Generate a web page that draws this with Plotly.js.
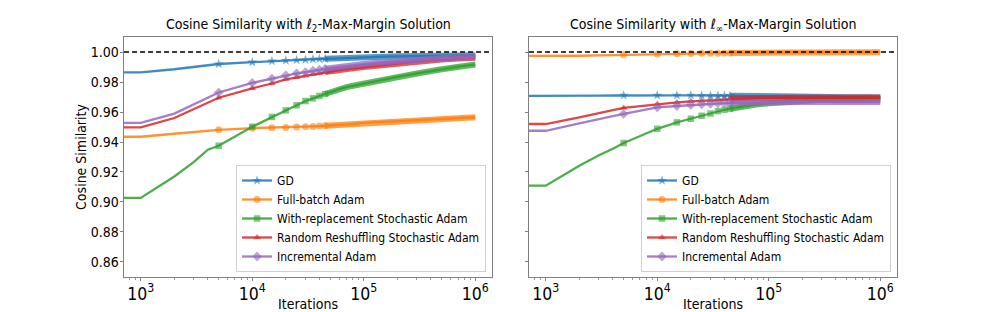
<!DOCTYPE html>
<html>
<head>
<meta charset="utf-8">
<script src="https://cdn.plot.ly/plotly-3.0.1.min.js"></script>
<style>html,body{margin:0;padding:0;background:#fff;}#chart{width:997px;height:312px;}</style>
</head>
<body>
<div id="chart"></div>
<script>
// ---- data ----
// first entry is the initial iterate (drawn at the far left of the log axis)
const iterations = [1, 1000, 2000, 3000, 4000, 5000, 10000, 15000, 20000, 25000, 30000, 35000, 40000, 45000, 50000, 60000, 70000, 80000, 100000, 150000, 200000, 300000, 500000, 700000, 1000000];

const seriesNames = ["GD", "Full-batch Adam", "With-replacement Stochastic Adam", "Random Reshuffling Stochastic Adam", "Incremental Adam"];

// cosine similarity with the l2 max-margin solution
const l2_gd      = [0.9864, 0.9864, 0.9885, 0.9900, 0.9911, 0.9920, 0.9932, 0.9940, 0.9943, 0.9946, 0.9949, 0.9951, 0.9953, 0.9955, 0.9957, 0.9960, 0.9962, 0.9963, 0.9966, 0.9969, 0.9971, 0.9973, 0.9976, 0.9977, 0.9979];
const l2_full    = [0.9435, 0.9435, 0.9455, 0.9465, 0.9474, 0.9481, 0.9493, 0.9495, 0.9497, 0.9500, 0.9502, 0.9504, 0.9506, 0.9508, 0.9510, 0.9513, 0.9516, 0.9519, 0.9528, 0.9535, 0.9541, 0.9548, 0.9556, 0.9560, 0.9565];
const l2_withrep = [0.9027, 0.9027, 0.9170, 0.9267, 0.9349, 0.9375, 0.9502, 0.9567, 0.9611, 0.9645, 0.9673, 0.9691, 0.9707, 0.9720, 0.9733, 0.9752, 0.9766, 0.9775, 0.9790, 0.9818, 0.9834, 0.9857, 0.9885, 0.9902, 0.9917];
const l2_rr      = [0.9497, 0.9497, 0.9560, 0.9620, 0.9660, 0.9695, 0.9758, 0.9790, 0.9818, 0.9831, 0.9842, 0.9851, 0.9858, 0.9866, 0.9872, 0.9880, 0.9886, 0.9891, 0.9900, 0.9915, 0.9925, 0.9937, 0.9950, 0.9956, 0.9962];
const l2_incr    = [0.9527, 0.9527, 0.9589, 0.9653, 0.9695, 0.9730, 0.9794, 0.9823, 0.9845, 0.9858, 0.9866, 0.9875, 0.9882, 0.9888, 0.9893, 0.9901, 0.9907, 0.9912, 0.9920, 0.9932, 0.9940, 0.9950, 0.9959, 0.9963, 0.9966];

// cosine similarity with the l-infinity max-margin solution
const linf_gd      = [0.9704, 0.9704, 0.9707, 0.9709, 0.9710, 0.9711, 0.9711, 0.9711, 0.9711, 0.9710, 0.9710, 0.9710, 0.9709, 0.9709, 0.9709, 0.9708, 0.9707, 0.9707, 0.9706, 0.9704, 0.9703, 0.9701, 0.9699, 0.9698, 0.9697];
const linf_full    = [0.9971, 0.9971, 0.9975, 0.9978, 0.9980, 0.9982, 0.9987, 0.9989, 0.9990, 0.9991, 0.9992, 0.9992, 0.9993, 0.9993, 0.9994, 0.9994, 0.9995, 0.9995, 0.9996, 0.9997, 0.9997, 0.9998, 0.9998, 0.9999, 0.9999];
const linf_withrep = [0.9109, 0.9109, 0.9242, 0.9312, 0.9355, 0.9393, 0.9488, 0.9531, 0.9555, 0.9575, 0.9590, 0.9606, 0.9615, 0.9622, 0.9629, 0.9638, 0.9645, 0.9651, 0.9659, 0.9670, 0.9676, 0.9681, 0.9684, 0.9686, 0.9687];
const linf_rr      = [0.9520, 0.9520, 0.9565, 0.9595, 0.9613, 0.9627, 0.9653, 0.9664, 0.9671, 0.9675, 0.9679, 0.9682, 0.9684, 0.9686, 0.9688, 0.9690, 0.9691, 0.9692, 0.9694, 0.9695, 0.9696, 0.9696, 0.9696, 0.9696, 0.9696];
const linf_incr    = [0.9475, 0.9475, 0.9525, 0.9555, 0.9573, 0.9587, 0.9631, 0.9640, 0.9647, 0.9651, 0.9655, 0.9657, 0.9659, 0.9660, 0.9661, 0.9663, 0.9664, 0.9665, 0.9666, 0.9667, 0.9667, 0.9667, 0.9667, 0.9666, 0.9666];

const referenceLevel = 1.0;
const yTickValues = [0.86, 0.88, 0.90, 0.92, 0.94, 0.96, 0.98, 1.00];
const panelTitles = ["Cosine Similarity with <i>ℓ</i><sub>2</sub>-Max-Margin Solution",
                     "Cosine Similarity with <i>ℓ</i><sub>∞</sub>-Max-Margin Solution"];

// ---- styles ----
const rgb = [[31,119,180],[255,127,14],[44,160,44],[214,39,40],[148,103,189]];
const symbols = ["star", "circle", "square", "triangle-up", "diamond"];
const markerSizes = [7.5, 7, 6.5, 7, 7.5];
const FONT = "DejaVu Sans Condensed, DejaVu Sans, sans-serif";
const markEvery = 5000;   // a marker every 5000 iterations
const bandFrom = 45000;   // markers merge into a continuous band beyond this

function rgba(c, a){ return `rgba(${c[0]},${c[1]},${c[2]},${a})`; }

const panels = [
  {xa:"x",  ya:"y",  legend:"legend",  data:[l2_gd, l2_full, l2_withrep, l2_rr, l2_incr]},
  {xa:"x2", ya:"y2", legend:"legend2", data:[linf_gd, linf_full, linf_withrep, linf_rr, linf_incr]}
];

const markerIdx = iterations.map((v,i)=> (v % markEvery === 0 && v <= bandFrom) ? i : -1).filter(i=>i>=0);
const bandStart = iterations.findIndex(v => v >= bandFrom);

const traces = [];
panels.forEach(p => {
  p.data.forEach((ys, k) => {
    traces.push({
      type:"scatter", mode:"lines+markers", x:iterations, y:ys, xaxis:p.xa, yaxis:p.ya,
      name:seriesNames[k], legend:p.legend, legendgroup:p.legend+k,
      line:{color:rgba(rgb[k],0.85), width:2.3},
      marker:{symbol:symbols[k], size:markerSizes[k], color:rgba(rgb[k],0.6), line:{width:0}},
      selectedpoints:markerIdx,
      selected:{marker:{opacity:1}},
      unselected:{marker:{opacity:0}},
      hoverinfo:"skip"
    });
    traces.push({
      type:"scatter", mode:"lines", x:iterations.slice(bandStart), y:ys.slice(bandStart),
      xaxis:p.xa, yaxis:p.ya, showlegend:false, legend:p.legend, legendgroup:p.legend+k,
      line:{color:rgba(rgb[k],0.75), width:6},
      hoverinfo:"skip"
    });
  });
});

const axisCommon = {
  showline:true, linecolor:"#808080", linewidth:1, mirror:true,
  ticks:"outside", ticklen:3.5, tickcolor:"#808080", tickwidth:1,
  showgrid:false, zeroline:false, ticklabelstandoff:-2,
  tickfont:{family:FONT, size:14, color:"#000"}
};
const xCommon = Object.assign({}, axisCommon, {
  type:"log", range:[2.85, 6.15], dtick:1, exponentformat:"power",
  minor:{ticks:"outside", ticklen:2, tickcolor:"#999", showgrid:false},
  title:{text:"Iterations", font:{family:FONT, size:14, color:"#000"}, standoff:0}
});
const yCommon = Object.assign({}, axisCommon, {
  range:[0.85, 1.01], tickvals:yTickValues, tickformat:".2f"
});

const legendCommon = {
  yanchor:"bottom", xanchor:"right", y:0.1282,
  bgcolor:"rgba(255,255,255,0.8)", bordercolor:"#d0d0d0", borderwidth:1,
  font:{family:FONT, size:12, color:"#000"}, tracegroupgap:0, itemwidth:30
};

const layout = {
  width:997, height:312, margin:{l:0, r:0, t:0, b:0},
  paper_bgcolor:"#fff", plot_bgcolor:"#fff", showlegend:true,
  font:{family:FONT},
  xaxis: Object.assign({}, xCommon, {domain:[0.1244, 0.4935], anchor:"y"}),
  yaxis: Object.assign({}, yCommon, {domain:[0.1122, 0.8814], anchor:"x",
          title:{text:"Cosine Similarity", font:{family:FONT, size:14, color:"#000"}, standoff:0}}),
  xaxis2: Object.assign({}, xCommon, {domain:[0.5306, 0.8997], anchor:"y2"}),
  yaxis2: Object.assign({}, yCommon, {domain:[0.1122, 0.8814], anchor:"x2", matches:"y", showticklabels:false}),
  legend: Object.assign({}, legendCommon, {x:0.4875}),
  legend2: Object.assign({}, legendCommon, {x:0.8937}),
  shapes: [
    {type:"line", xref:"x domain", yref:"y", x0:0, x1:1, y0:referenceLevel, y1:referenceLevel, layer:"above",
     line:{color:"#000", width:1.5, dash:"5px,3px"}},
    {type:"line", xref:"x2 domain", yref:"y2", x0:0, x1:1, y0:referenceLevel, y1:referenceLevel, layer:"above",
     line:{color:"#000", width:1.5, dash:"5px,3px"}}
  ],
  annotations: [
    {xref:"x domain", yref:"y domain", x:0.5, y:1, yanchor:"bottom", yshift:1, showarrow:false,
     text:panelTitles[0], font:{family:FONT, size:14, color:"#000"}},
    {xref:"x2 domain", yref:"y2 domain", x:0.5, y:1, yanchor:"bottom", yshift:1, showarrow:false,
     text:panelTitles[1], font:{family:FONT, size:14, color:"#000"}}
  ]
};

Plotly.newPlot("chart", traces, layout, {staticPlot:true, displayModeBar:false});
</script>
</body>
</html>
